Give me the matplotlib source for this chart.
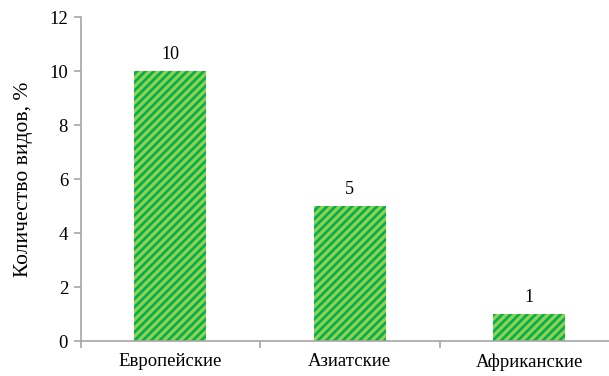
import matplotlib
matplotlib.use('Agg')
import matplotlib.pyplot as plt
import numpy as np

categories = ['Европейские', 'Азиатские', 'Африканские']
values = [10, 5, 1]
yticks = [0, 2, 4, 6, 8, 10, 12]

plt.rcParams['font.family'] = ['Liberation Serif', 'DejaVu Serif']
plt.rcParams['hatch.linewidth'] = 1.9

fig = plt.figure(figsize=(6.09, 3.76), dpi=100)
# plot area runs a little past the right edge of the figure
ax = fig.add_axes([80.5 / 609, 35 / 376, 538.5 / 609, 324 / 376])

x = np.arange(len(categories))
bars = ax.bar(x, values, width=0.40, color='#92D050', edgecolor='#00B050',
              linewidth=0, hatch='////')

for xi, v in zip(x, values):
    ax.text(xi, v + 0.3, str(v), ha='center', va='bottom', fontsize=13)

ax.set_xlim(-0.5, len(categories) - 0.5)
ax.set_ylim(0, 12)
ax.set_yticks(yticks)
ax.set_xticks(x)
ax.set_xticklabels(categories, fontsize=13.5)
ax.set_xticks(np.arange(len(categories) + 1) - 0.5, minor=True)
ax.tick_params(axis='x', which='major', length=0, pad=9)
ax.tick_params(axis='x', which='minor', length=5, width=1.2, color='#A6A6A6', direction='out')
ax.tick_params(axis='y', length=5, width=1.2, color='#A6A6A6', direction='out', labelsize=13.5, pad=4)
ax.set_ylabel('Количество видов, %', fontsize=15.5, labelpad=12)

for side in ['top', 'right']:
    ax.spines[side].set_visible(False)
for side in ['left', 'bottom']:
    ax.spines[side].set_color('#A6A6A6')
    ax.spines[side].set_linewidth(1.2)

fig.savefig('out.png', dpi=100)
